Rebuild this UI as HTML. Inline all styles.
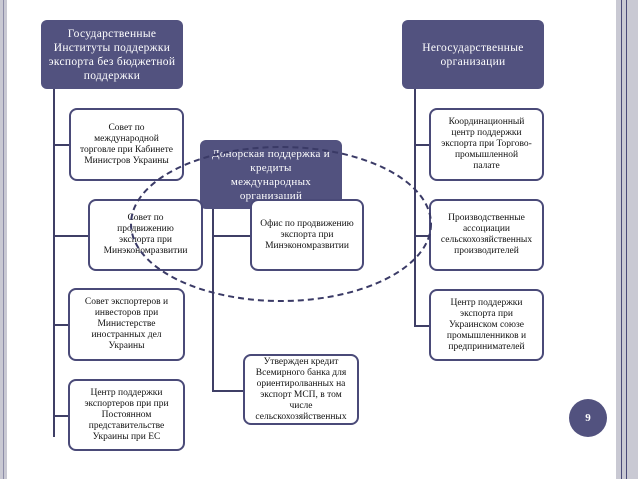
<!DOCTYPE html>
<html><head><meta charset="utf-8"><style>
body{margin:0;width:638px;height:479px;background:#fff;position:relative;overflow:hidden;font-family:"Liberation Serif",serif}
.h{position:absolute;background:#52527f;color:#fff;border-radius:6px;font-size:11.5px;line-height:14px;text-align:center;display:flex;align-items:center;justify-content:center;letter-spacing:0.3px}
.b{position:absolute;background:#fff;border:2px solid #4a4a78;border-radius:8px;font-size:9.5px;line-height:11px;text-align:center;display:flex;align-items:center;justify-content:center;box-sizing:border-box;color:#111}
.l{position:absolute;background:#3f3f66}
</style></head><body>
<div style="position:absolute;left:0;top:0;width:7px;height:479px;background:#c9c9d3"></div>
<div style="position:absolute;left:3px;top:0;width:1px;height:479px;background:#8d8da8"></div>
<div style="position:absolute;left:616px;top:0;width:22px;height:479px;background:#c9c9d3"></div>
<div style="position:absolute;left:621px;top:0;width:1px;height:479px;background:#4a4a78"></div>
<div style="position:absolute;left:626px;top:0;width:1px;height:479px;background:#4a4a78"></div>

<div class="l" style="left:53px;top:89px;width:2px;height:348px"></div>
<div class="l" style="left:53px;top:144px;width:16px;height:2px"></div>
<div class="l" style="left:53px;top:235px;width:35px;height:2px"></div>
<div class="l" style="left:53px;top:324px;width:15px;height:2px"></div>
<div class="l" style="left:53px;top:415px;width:15px;height:2px"></div>
<div class="l" style="left:212px;top:209px;width:2px;height:183px"></div>
<div class="l" style="left:212px;top:235px;width:38px;height:2px"></div>
<div class="l" style="left:212px;top:390px;width:31px;height:2px"></div>
<div class="l" style="left:414px;top:89px;width:2px;height:238px"></div>
<div class="l" style="left:414px;top:144px;width:15px;height:2px"></div>
<div class="l" style="left:414px;top:235px;width:15px;height:2px"></div>
<div class="l" style="left:414px;top:325px;width:15px;height:2px"></div>

<div class="h" style="left:41px;top:20px;width:142px;height:69px">Государственные<br>Институты поддержки<br>экспорта без бюджетной<br>поддержки</div>
<div class="h" style="left:402px;top:20px;width:142px;height:69px">Негосударственные<br>организации</div>

<div class="b" style="left:69px;top:108px;width:115px;height:73px">Совет по<br>международной<br>торговле при Кабинете<br>Министров Украины</div>
<div class="h" style="left:200px;top:140px;width:142px;height:69px;font-size:11px">Донорская поддержка и<br>кредиты<br>международных<br>организаций</div>
<div class="b" style="left:88px;top:199px;width:115px;height:72px">Совет по<br>продвижению<br>экспорта при<br>Минэкономразвитии</div>
<div class="b" style="left:250px;top:199px;width:114px;height:72px">Офис по продвижению<br>экспорта при<br>Минэкономразвитии</div>
<div class="b" style="left:68px;top:288px;width:117px;height:73px">Совет экспортеров и<br>инвесторов при<br>Министерстве<br>иностранных дел<br>Украины</div>
<div class="b" style="left:68px;top:379px;width:117px;height:72px">Центр поддержки<br>экспортеров при при<br>Постоянном<br>представительстве<br>Украины при ЕС</div>
<div class="b" style="left:243px;top:354px;width:116px;height:71px">Утвержден кредит<br>Всемирного банка для<br>ориентиролванных на<br>экспорт МСП, в том<br>числе<br>сельскохозяйственных</div>
<div class="b" style="left:429px;top:108px;width:115px;height:73px">Координационный<br>центр поддержки<br>экспорта при Торгово-<br>промышленной<br>палате</div>
<div class="b" style="left:429px;top:199px;width:115px;height:72px">Производственные<br>ассоциации<br>сельскохозяйственных<br>производителей</div>
<div class="b" style="left:429px;top:289px;width:115px;height:72px">Центр поддержки<br>экспорта при<br>Украинском союзе<br>промышленников и<br>предпринимателей</div>

<svg style="position:absolute;left:0;top:0" width="638" height="479"><ellipse cx="281" cy="224" rx="150" ry="77" fill="none" stroke="#3a3a66" stroke-width="2" stroke-dasharray="6,4"/></svg>

<div style="position:absolute;left:569px;top:399px;width:38px;height:38px;border-radius:50%;background:#52527f;color:#fff;font-size:11px;font-weight:bold;display:flex;align-items:center;justify-content:center">9</div>
</body></html>
